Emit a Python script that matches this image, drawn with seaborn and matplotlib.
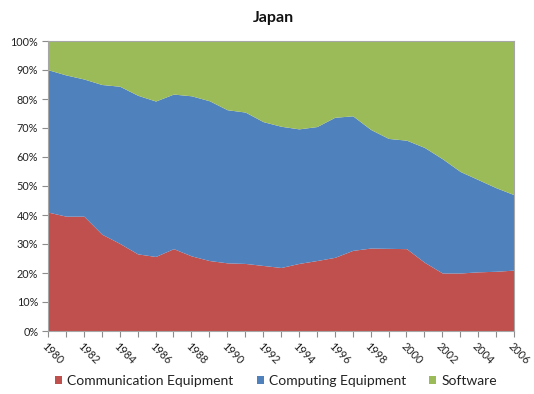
import matplotlib
matplotlib.use("Agg")
import matplotlib.pyplot as plt
from matplotlib.patches import Patch
from matplotlib.ticker import FuncFormatter, MultipleLocator
import numpy as np
import pandas as pd
import seaborn as sns

years = list(range(1980, 2007))
communication = [41.0, 39.6, 39.6, 33.4, 30.2, 26.6, 25.7, 28.4, 25.9, 24.3, 23.5, 23.3, 22.6, 21.9,
                 23.3, 24.3, 25.4, 27.8, 28.6, 28.5, 28.4, 23.7, 20.0, 20.0, 20.4, 20.6, 21.0]
computing = [49.1, 48.7, 47.3, 51.6, 54.2, 54.7, 53.6, 53.3, 55.2, 55.1, 52.8, 52.2, 49.6, 48.7,
             46.4, 46.2, 48.3, 46.4, 40.9, 37.9, 37.4, 39.6, 39.4, 35.0, 31.8, 28.8, 26.0]
software = [9.9, 11.7, 13.1, 15.0, 15.6, 18.7, 20.7, 18.3, 18.9, 20.6, 23.7, 24.5, 27.8, 29.4,
            30.3, 29.5, 26.3, 25.8, 30.5, 33.6, 34.2, 36.7, 40.6, 45.0, 47.8, 50.6, 53.0]
series_names = ["Communication Equipment", "Computing Equipment", "Software"]
year_ticks = list(range(1980, 2007, 2))

df = pd.DataFrame({"Year": years,
                   series_names[0]: communication,
                   series_names[1]: computing,
                   series_names[2]: software}).set_index("Year")
shares = df.div(df.sum(axis=1), axis=0)

sns.set_theme(style="white")
plt.rcParams["font.family"] = ["Lato", "DejaVu Sans"]
palette = sns.color_palette(["#C0504D", "#4F81BD", "#9BBB59"])

fig = plt.figure(figsize=(5.34, 3.94), dpi=100)
ax = fig.add_axes([48 / 534, 1 - 331 / 394, (514 - 48) / 534, (331 - 41) / 394])

ax.stackplot(shares.index, *[shares[c].values for c in series_names],
             colors=palette, labels=series_names, linewidth=0)

ax.set_xlim(1980, 2006)
ax.set_ylim(0, 1)
ax.yaxis.set_major_locator(MultipleLocator(0.1))
ax.yaxis.set_major_formatter(FuncFormatter(lambda v, _: f"{v:.0%}"))
ax.set_xticks(years, minor=False)
ax.set_xticklabels([str(y) if y in year_ticks else "" for y in years])
for lbl in ax.get_xticklabels():
    lbl.set_rotation(-45)
    lbl.set_ha("left")
    lbl.set_va("top")
    lbl.set_rotation_mode("anchor")

ax.tick_params(axis="both", which="both", length=4, width=0.8, color="#8c8c8c",
               labelsize=7.8, labelcolor="#222222", direction="out")
ax.tick_params(axis="x", pad=3)
ax.tick_params(axis="y", pad=3)
ax.xaxis.set_ticks_position("bottom")
ax.yaxis.set_ticks_position("left")
for s in ax.spines.values():
    s.set_color("#a6a6a6")
    s.set_linewidth(0.8)

fig.text(273 / 534, 1 - 18 / 394, "Japan", ha="center", va="center",
         fontsize=11.5, fontweight="bold", color="#111111")

handles = [Patch(facecolor=c, edgecolor="none") for c in palette]
fig.legend(handles, series_names, loc="center", bbox_to_anchor=(276 / 534, 1 - 381 / 394),
           ncol=3, frameon=False, fontsize=10, handlelength=0.5, handleheight=0.5,
           handletextpad=0.35, columnspacing=1.7, labelcolor="#222222")

fig.savefig("out.png", dpi=100)
